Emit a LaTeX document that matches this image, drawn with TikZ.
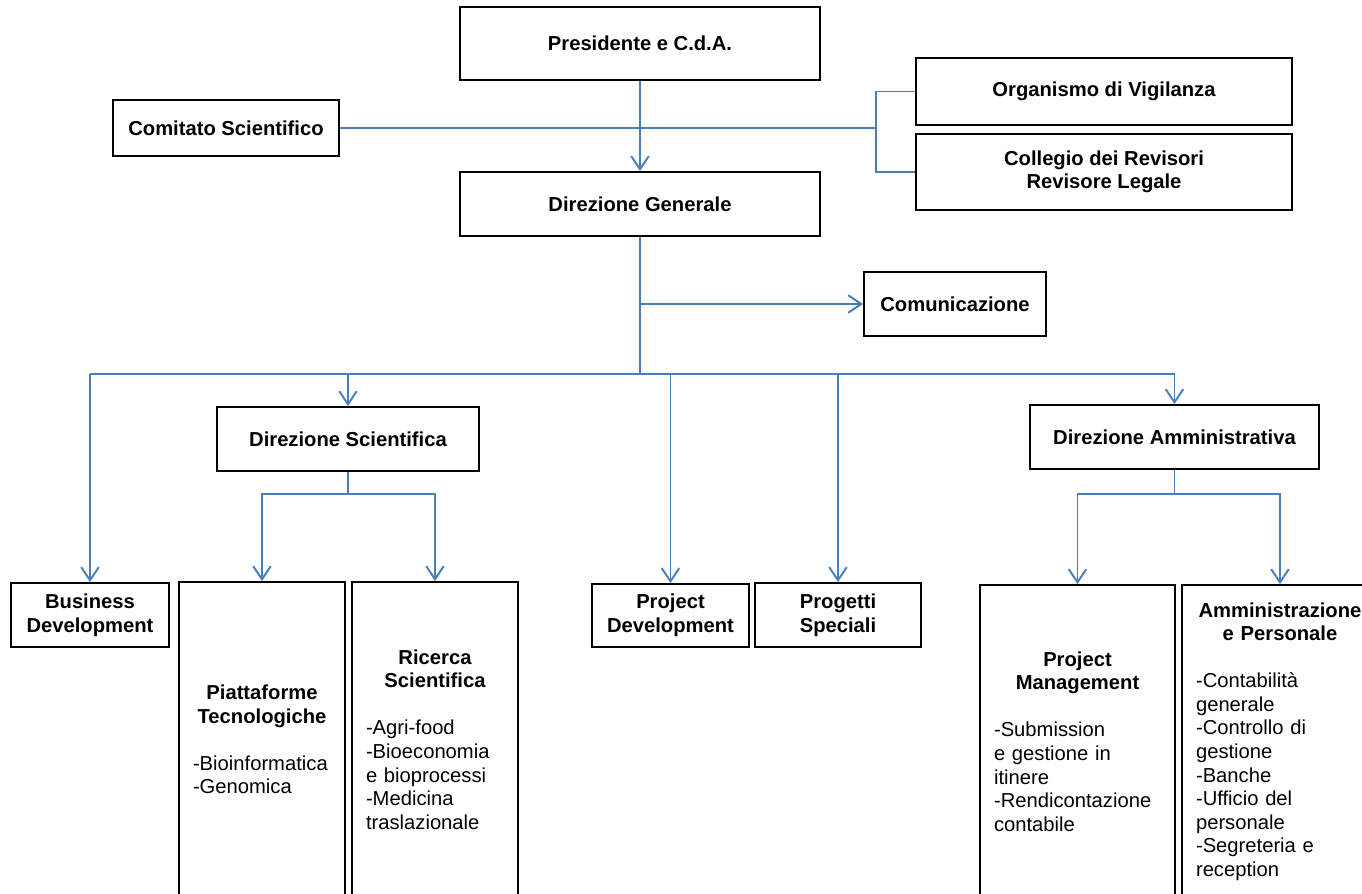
\documentclass[tikz,border=0pt]{standalone}
\usepackage{fontspec}
\setmainfont{Liberation Sans}
\usetikzlibrary{arrows.meta}
\definecolor{lineablu}{RGB}{74,126,187}
\newcommand{\titolo}[1]{{\centering\bfseries #1\par}\vspace{\baselineskip}}

\begin{document}
\begin{tikzpicture}[x=0.02cm,y=-0.02cm,
	every node/.style={font=\fontsize{11.5}{13.4}\selectfont},
	ufficio/.style={draw,line width=1.1pt,align=center,inner sep=0pt,font=\fontsize{11.5}{13.4}\selectfont\bfseries},
	colonna/.style={draw,line width=1.1pt,align=left,inner xsep=0.28cm,inner ysep=0pt,execute at begin node={\parindent=0pt}},
	linea/.style={draw=lineablu,line width=1.1pt},
	freccia/.style={linea,-{Straight Barb[length=7.5pt,width=10pt]}}]
	\useasboundingbox (0,0) rectangle (1362,893);
	\fill[white] (0,0) rectangle (1362,893);
	\clip (0,0) rectangle (1362,893);
	% 顶层
	\node[ufficio,minimum width=7.2cm,minimum height=1.46cm] (pres) at (640,43.5) {Presidente e C.d.A.};
	\node[ufficio,minimum width=4.52cm,minimum height=1.12cm] (comitato) at (226,128) {Comitato Scientifico};
	\node[ufficio,minimum width=7.52cm,minimum height=1.34cm] (vigilanza) at (1104,91.5) {Organismo di Vigilanza};
	\node[ufficio,minimum width=7.52cm,minimum height=1.52cm] (revisori) at (1104,172) {Collegio dei Revisori\\Revisore Legale};
	\node[ufficio,minimum width=7.2cm,minimum height=1.28cm] (dg) at (640,204) {Direzione Generale};
	\node[ufficio,minimum width=3.64cm,minimum height=1.28cm] (comunicazione) at (955,304) {Comunicazione};
	% 第二层
	\node[ufficio,minimum width=5.24cm,minimum height=1.28cm] (dirsci) at (348,439) {Direzione Scientifica};
	\node[ufficio,minimum width=5.78cm,minimum height=1.28cm] (diramm) at (1174.5,437) {Direzione Amministrativa};
	% 底层
	\node[ufficio,minimum width=3.16cm,minimum height=1.28cm] (busdev) at (90,615) {Business\\Development};
	\node[ufficio,minimum width=3.14cm,minimum height=1.26cm] (projdev) at (670.5,615.5) {Project\\Development};
	\node[ufficio,minimum width=3.32cm,minimum height=1.28cm] (progspec) at (838,615) {Progetti\\Speciali};
	\node[colonna,text width=2.76cm,minimum height=6.3cm] (piatt) at (262,739.5) {\titolo{Piattaforme\\Tecnologiche}-Bioinformatica\\-Genomica};
	\node[colonna,text width=2.76cm,minimum height=6.3cm] (ricerca) at (435,739.5) {\titolo{Ricerca\\Scientifica}-Agri-food\\-Bioeconomia\\e bioprocessi\\-Medicina\\traslazionale};
	\node[colonna,text width=3.34cm,minimum height=6.26cm] (projman) at (1077.5,741.5) {\titolo{Project\\Management}-Submission\\e gestione in\\itinere\\-Rendicontazione\\contabile};
	\node[colonna,text width=3.36cm,minimum height=6.26cm] (amm) at (1280,741.5) {\titolo{Amministrazione\\e Personale}-Contabilità\\generale\\-Controllo di\\gestione\\-Banche\\-Ufficio del\\personale\\-Segreteria e\\reception};
	% 连线
	\coordinate (nodo) at (876,128);
	\coordinate (bivio) at (640,374);
	\draw[freccia] (pres.south) -- (dg.north);
	\draw[linea] (comitato.east) -- (nodo);
	\draw[linea] (vigilanza.west) -| (nodo) |- (revisori.west);
	\draw[linea] (dg.south) -- (bivio);
	\draw[freccia] (dg.south |- comunicazione.west) -- (comunicazione.west);
	\draw[linea] (busdev.north |- bivio) -- (diramm.north |- bivio);
	\draw[freccia] (busdev.north |- bivio) -- (busdev.north);
	\draw[freccia] (dirsci.north |- bivio) -- (dirsci.north);
	\draw[freccia] (projdev.north |- bivio) -- (projdev.north);
	\draw[freccia] (progspec.north |- bivio) -- (progspec.north);
	\draw[freccia] (diramm.north |- bivio) -- (diramm.north);
	% 分支
	\draw[linea] (dirsci.south) -- ++(0,22) coordinate (bivioscienza);
	\draw[freccia] (bivioscienza) -| (piatt.north);
	\draw[freccia] (bivioscienza) -| (ricerca.north);
	\draw[linea] (diramm.south) -- ++(0,24) coordinate (bivioamm);
	\draw[freccia] (bivioamm) -| (projman.north);
	\draw[freccia] (bivioamm) -| (amm.north);
\end{tikzpicture}
\end{document}
